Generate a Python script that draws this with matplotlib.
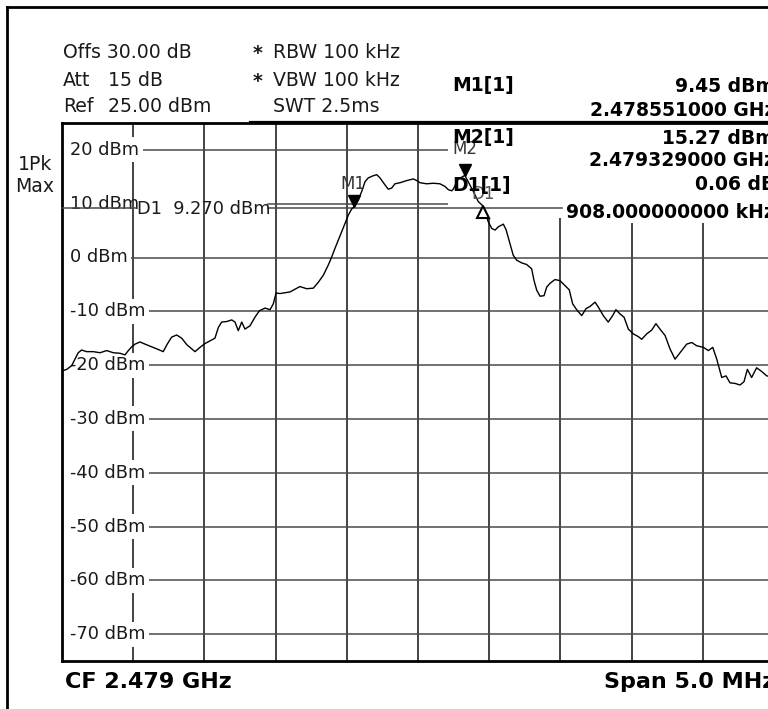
import matplotlib
matplotlib.use("Agg")
import matplotlib.pyplot as plt
from matplotlib.lines import Line2D
from matplotlib.patches import Rectangle
from matplotlib.transforms import offset_copy

# ---------------- data ----------------
center_ghz = 2.479
span_mhz = 5.0
ref_level_dbm = 25.0
level_ticks = [20, 10, 0, -10, -20, -30, -40, -50, -60, -70]

# trace: frequency offset from centre (MHz) and level (dBm)
trace_offset_mhz = [
    -2.500, -2.467, -2.432, -2.409, -2.386, -2.362, -2.327, -2.280, -2.233, -2.186,
    -2.140, -2.093, -2.058, -2.034, -2.011, -1.987, -1.952, -1.917, -1.870, -1.824,
    -1.789, -1.761, -1.730, -1.695, -1.659, -1.624, -1.589, -1.566, -1.531, -1.496,
    -1.461, -1.426, -1.402, -1.379, -1.343, -1.308, -1.285, -1.262, -1.238, -1.215,
    -1.180, -1.145, -1.114, -1.074, -1.039, -1.016, -0.997, -0.969, -0.899, -0.829,
    -0.782, -0.735, -0.700, -0.665, -0.630, -0.606, -0.583, -0.560, -0.536, -0.513,
    -0.489, -0.466, -0.449, -0.419, -0.395, -0.372, -0.349, -0.314, -0.290, -0.267,
    -0.232, -0.209, -0.185, -0.162, -0.126, -0.079, -0.033, -0.009, 0.014, 0.061,
    0.107, 0.154, 0.190, 0.213, 0.237, 0.250, 0.280, 0.329, 0.388, 0.423,
    0.459, 0.494, 0.518, 0.541, 0.564, 0.599, 0.618, 0.646, 0.669, 0.693,
    0.728, 0.763, 0.798, 0.815, 0.834, 0.857, 0.885, 0.904, 0.927, 0.962,
    0.997, 1.032, 1.062, 1.086, 1.114, 1.150, 1.180, 1.208, 1.243, 1.266,
    1.301, 1.336, 1.367, 1.390, 1.419, 1.447, 1.477, 1.512, 1.547, 1.571,
    1.606, 1.641, 1.671, 1.699, 1.735, 1.770, 1.805, 1.840, 1.887, 1.922,
    1.957, 2.004, 2.039, 2.070, 2.098, 2.133, 2.163, 2.191, 2.226, 2.261,
    2.289, 2.313, 2.343, 2.378, 2.414, 2.449, 2.500,
]
trace_level_dbm = [
    -21.1, -20.8, -20.1, -18.9, -17.7, -17.2, -17.5, -17.5, -17.7, -17.3,
    -17.7, -17.8, -18.1, -17.3, -16.6, -16.1, -15.7, -16.1, -16.6, -17.1,
    -17.5, -16.1, -14.8, -14.4, -15.0, -16.2, -17.0, -17.5, -16.7, -16.0,
    -15.5, -15.0, -13.0, -12.0, -11.9, -11.6, -12.0, -13.6, -12.0, -13.3,
    -12.7, -11.1, -9.9, -9.4, -9.7, -8.6, -6.6, -6.7, -6.4, -5.4,
    -5.8, -5.7, -4.6, -3.3, -1.4, 0.1, 1.7, 3.2, 4.8, 6.3,
    7.9, 9.0, 9.45, 10.7, 12.3, 14.1, 14.8, 15.2, 15.4, 14.8,
    13.5, 12.7, 12.9, 13.7, 13.9, 14.3, 14.6, 14.3, 13.9, 13.7,
    13.8, 13.7, 13.2, 12.6, 12.4, 12.8, 14.5, 15.27, 12.3, 10.4,
    9.51, 6.6, 5.4, 5.1, 5.7, 6.2, 5.2, 2.6, 0.4, -0.5,
    -1.0, -1.3, -2.1, -4.3, -6.1, -7.2, -7.1, -5.5, -4.8, -4.1,
    -4.3, -5.2, -6.0, -8.6, -9.7, -10.8, -9.5, -9.1, -8.3, -9.2,
    -10.8, -12.0, -10.8, -9.7, -10.5, -11.1, -13.3, -14.2, -14.7, -15.2,
    -14.2, -13.5, -12.3, -13.3, -14.5, -17.0, -18.9, -17.7, -16.1, -15.8,
    -16.4, -16.7, -17.3, -16.7, -18.9, -22.3, -22.0, -23.3, -23.4, -23.7,
    -23.1, -20.8, -22.3, -20.5, -21.2, -22.0, -22.3,
]

# markers
m1_freq_ghz, m1_level = 2.478551, 9.45
m2_freq_ghz, m2_level = 2.479329, 15.27
d1_delta_khz, d1_delta_db = 908.0, 0.06
display_line_dbm = 9.270

header_left = ["Offs 30.00 dB", "Att", "Ref"]
header_left_values = ["", "15 dB", "25.00 dBm"]
header_mid = ["RBW 100 kHz", "VBW 100 kHz", "SWT 2.5ms"]
header_mid_star = [True, True, False]
table_left = ["M1[1]", "M2[1]", "D1[1]"]
table_right = ["9.45 dBm", "2.478551000 GHz", "15.27 dBm", "2.479329000 GHz",
               "0.06 dB", "908.000000000 kHz"]

# ---------------- figure ----------------
W, H = 768, 709
plt.rcParams['font.family'] = ['DejaVu Sans']
fig = plt.figure(figsize=(W / 100, H / 100), dpi=100)

def fx(px):
    return px / W

def fy(py):
    return 1 - py / H

ax_left, ax_right, ax_top, ax_bottom = 62, 774, 123, 661
ax = fig.add_axes([fx(ax_left), fy(ax_bottom), (ax_right - ax_left) / W,
                   (ax_bottom - ax_top) / H])
half = span_mhz / 2
ax.set_xlim(-half, half)
ax.set_ylim(ref_level_dbm - 100, ref_level_dbm)
ax.set_xticks([])
ax.set_yticks([])
for s in ['left', 'bottom', 'top']:
    ax.spines[s].set_linewidth(2.0)
    ax.spines[s].set_color('black')
ax.spines['right'].set_visible(False)

def px2mhz(px):
    return (px - ax_left) / (ax_right - ax_left) * span_mhz - half

# outer frame
fig.add_artist(Line2D([fx(6.5), fx(6.5)], [fy(7), fy(H + 5)], color='black', lw=2))
fig.add_artist(Line2D([fx(6.5), fx(W + 5)], [fy(7), fy(7)], color='black', lw=2))

# vertical grid
for i in range(1, 10):
    ax.axvline(-half + i * span_mhz / 10, color='#111111', lw=1.1, zorder=2)

# level labels
ytr = ax.get_yaxis_transform()
labels = []
for lvl in level_ticks:
    kw = dict(transform=ytr, ha='left', va='center', fontsize=12.8, color='#1a1a1a', zorder=3)
    if lvl != 10:
        kw['bbox'] = dict(facecolor='white', edgecolor='none', pad=2.5)
    labels.append(ax.text(8 / (ax_right - ax_left), lvl, f"{lvl} dBm", **kw))

fig.canvas.draw()
renderer = fig.canvas.get_renderer()
inv = ax.transData.inverted()

# horizontal grid, starting right after each level label
for lvl, t in zip(level_ticks, labels):
    if lvl == 10:
        x0 = px2mhz(268)
    else:
        bb = t.get_window_extent(renderer)
        x0 = inv.transform((bb.x1 + 1, 0))[0]
    ax.plot([x0, half], [lvl, lvl], color='#4a4a4a', lw=1.1, zorder=2)

# marker table white area
ax.add_patch(Rectangle((px2mhz(448), 7.3), half - px2mhz(448) + 0.2, 25 - 7.3,
                       facecolor='white', edgecolor='none', zorder=2.5))

# display line D1
ax.plot([-half, px2mhz(136)], [display_line_dbm] * 2, color='#4a4a4a', lw=1.1, zorder=4)
ax.plot([px2mhz(268), px2mhz(562)], [display_line_dbm] * 2, color='#4a4a4a', lw=1.1, zorder=4)
ax.text(px2mhz(137), display_line_dbm - 0.3, "D1  9.270 dBm", ha='left', va='center',
        fontsize=12.8, color='#1a1a1a', zorder=4)

# trace
ax.plot(trace_offset_mhz, trace_level_dbm, color='black', lw=1.0, zorder=6)

# markers
m1_x = (m1_freq_ghz - center_ghz) * 1000
m2_x = (m2_freq_ghz - center_ghz) * 1000
d1_x = m1_x + d1_delta_khz / 1000
d1_y = m1_level + d1_delta_db

tr_down = offset_copy(ax.transData, fig=fig, x=0, y=4.2, units='points')
tr_up = offset_copy(ax.transData, fig=fig, x=0, y=-4.2, units='points')
ax.plot([m1_x, m2_x], [m1_level, m2_level], linestyle='none', marker='v', ms=8,
        color='black', transform=tr_down, zorder=8, clip_on=False)
ax.plot([d1_x], [d1_y], linestyle='none', marker='^', ms=8, mfc='white',
        mec='black', mew=1.5, transform=tr_up, zorder=8)

ax.text(m1_x, m1_level, "M1", transform=offset_copy(ax.transData, fig=fig, x=-1, y=16, units='points'),
        ha='center', va='center', fontsize=12, color='#333333', zorder=8)
ax.text(m2_x, m2_level, "M2", transform=offset_copy(ax.transData, fig=fig, x=0, y=19, units='points'),
        ha='center', va='center', fontsize=12, color='#333333', zorder=8)

# header texts
FS = 13.6
tc = '#1a1a1a'
rows = [53, 80, 107]
for i, r in enumerate(rows):
    fig.text(fx(63), fy(r), header_left[i], fontsize=FS, ha='left', va='center', color=tc)
    if header_left_values[i]:
        fig.text(fx(108), fy(r), header_left_values[i], fontsize=FS, ha='left', va='center', color=tc)
    if header_mid_star[i]:
        fig.text(fx(253), fy(r + 1), "*", fontsize=FS, ha='left', va='center', color=tc,
                 fontweight='bold')
    fig.text(fx(273), fy(r), header_mid[i], fontsize=FS, ha='left', va='center', color=tc)

fig.text(fx(35), fy(165), "1Pk", fontsize=FS, ha='center', va='center', color=tc)
fig.text(fx(35), fy(187), "Max", fontsize=FS, ha='center', va='center', color=tc)

# marker table
BF = 13.5
fig.text(fx(452), fy(86), table_left[0], fontsize=BF, fontweight='bold', ha='left', va='center')
fig.text(fx(452), fy(138), table_left[1], fontsize=BF, fontweight='bold', ha='left', va='center', zorder=5)
fig.text(fx(452), fy(185), table_left[2], fontsize=BF, fontweight='bold', ha='left', va='center', zorder=5)
right_rows = [86, 110, 138, 160, 185, 212]
for s, r in zip(table_right, right_rows):
    kw = dict(fontsize=BF, fontweight='bold', ha='right', va='center')
    if s.endswith('kHz'):
        kw['bbox'] = dict(facecolor='white', edgecolor='none', pad=1.0)
    fig.text(fx(775), fy(r), s, **kw)
fig.add_artist(Line2D([fx(250), fx(W + 5)], [fy(121.5), fy(121.5)], color='black', lw=1.6))

# D1 label (drawn over the table text)
ax.text(d1_x, d1_y, "D1", transform=offset_copy(ax.transData, fig=fig, x=0, y=9, units='points'),
        ha='center', va='center', fontsize=12, color='#555555', zorder=9)

# footer
fig.text(fx(65), fy(682), f"CF {center_ghz:.3f} GHz", fontsize=16, fontweight='bold',
         ha='left', va='center')
fig.text(fx(775), fy(682), f"Span {span_mhz:.1f} MHz", fontsize=16, fontweight='bold',
         ha='right', va='center')

fig.savefig("out.png", dpi=100)
